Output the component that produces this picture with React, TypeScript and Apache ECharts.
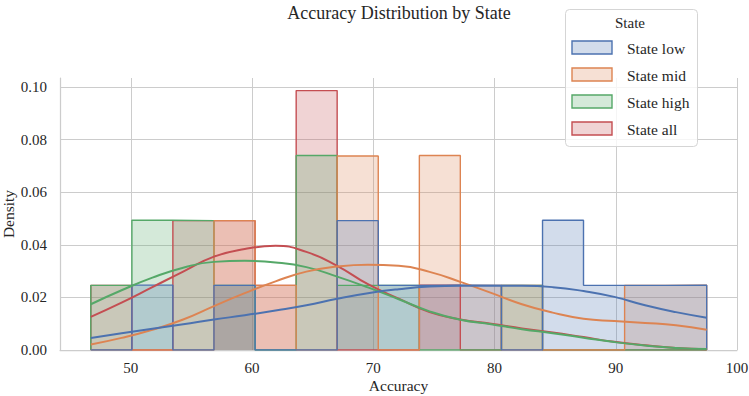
import React, { useEffect, useRef } from "react";
import * as echarts from "echarts";

// Histogram bin edges (Accuracy) shared by every state
const binEdges = [46.7, 50.09, 53.47, 56.86, 60.25, 63.64, 67.02, 70.41, 73.8, 77.18, 80.57, 83.96, 87.34, 90.73, 94.12, 97.5];
const sampleSize = 12;

const stateNames = ["State low", "State mid", "State high", "State all"];
const stateColors = ["#4c72b0", "#dd8452", "#55a868", "#c44e52"];

// Observations per bin for each state
const countsLow = [0, 1, 0, 1, 0, 0, 2, 1, 1, 1, 0, 2, 1, 1, 1];
const countsMid = [0, 0, 0, 2, 1, 0, 3, 0, 3, 1, 0, 0, 0, 1, 1];
const countsHigh = [1, 2, 2, 1, 0, 3, 1, 1, 0, 0, 1, 0, 0, 0, 0];
const countsAll = [1, 0, 2, 2, 1, 4, 0, 0, 1, 0, 1, 0, 0, 0, 0];

// Kernel density estimates sampled along the accuracy range
const kdeX = [46.7, 49.24, 51.78, 54.32, 56.86, 59.4, 61.94, 64.48, 67.02, 69.56, 72.1, 74.64, 77.18, 79.72, 82.26, 84.8, 87.34, 89.88, 92.42, 94.96, 97.5];
const kdeLow = [0.0046, 0.0064, 0.0081, 0.0098, 0.0116, 0.0132, 0.015, 0.017, 0.0195, 0.0216, 0.0231, 0.0241, 0.0244, 0.0244, 0.0244, 0.0239, 0.0224, 0.0202, 0.017, 0.0144, 0.0123];
const kdeMid = [0.0021, 0.0046, 0.0077, 0.0116, 0.0167, 0.0216, 0.0261, 0.0298, 0.0317, 0.0324, 0.032, 0.0297, 0.0259, 0.0217, 0.0174, 0.0142, 0.0119, 0.011, 0.0103, 0.0094, 0.0077];
const kdeHigh = [0.0174, 0.0227, 0.0275, 0.0313, 0.0335, 0.0339, 0.0333, 0.0315, 0.0279, 0.0238, 0.0193, 0.0147, 0.0115, 0.0098, 0.0079, 0.0064, 0.0047, 0.003, 0.0017, 0.0008, 0.0004];
const kdeAll = [0.0126, 0.018, 0.0239, 0.0298, 0.0355, 0.0384, 0.0396, 0.0373, 0.032, 0.025, 0.0195, 0.0144, 0.0116, 0.01, 0.0082, 0.0067, 0.0049, 0.0031, 0.0018, 0.0008, 0.0003];

const xTicks = [50, 60, 70, 80, 90, 100];
const yTicks = [0, 0.02, 0.04, 0.06, 0.08, 0.1];

const allCounts = [countsLow, countsMid, countsHigh, countsAll];
const allKde = [kdeLow, kdeMid, kdeHigh, kdeAll];

const FONT = "Liberation Serif";
const TEXT = "#262626";
const GRID = "#cccccc";

function hexToRgba(hex: string, a: number) {
  const n = parseInt(hex.slice(1), 16);
  return `rgba(${(n >> 16) & 255},${(n >> 8) & 255},${n & 255},${a})`;
}

// Step outline of a density histogram, closed down to zero at both ends
function stepPoints(counts: number[]) {
  const pts: number[][] = [[binEdges[0], 0]];
  counts.forEach((c, i) => {
    const w = binEdges[i + 1] - binEdges[i];
    pts.push([binEdges[i], c / (sampleSize * w)]);
  });
  const last = counts.length - 1;
  const lastW = binEdges[last + 1] - binEdges[last];
  pts.push([binEdges[last + 1], counts[last] / (sampleSize * lastW)]);
  pts.push([binEdges[last + 1], 0]);
  return pts;
}

function isTick(v: number, ticks: number[]) {
  return ticks.some((t) => Math.abs(t - v) < 1e-6);
}

export default function App() {
  const ref = useRef<HTMLDivElement>(null);

  useEffect(() => {
    if (!ref.current) return;
    const chart = echarts.init(ref.current, undefined, { renderer: "svg" });

    // later states are drawn first so "State low" ends up on top
    const order = [3, 2, 1, 0];
    const histSeries = order.map((i) => ({
      name: stateNames[i],
      type: "line",
      step: "end",
      data: stepPoints(allCounts[i]),
      symbol: "none",
      silent: true,
      z: 2,
      lineStyle: { color: stateColors[i], width: 1.4 },
      itemStyle: { color: stateColors[i] },
      areaStyle: { color: hexToRgba(stateColors[i], 0.25), opacity: 1 },
    }));
    const kdeSeries = order.map((i) => ({
      name: stateNames[i] + " density",
      type: "line",
      data: kdeX.map((x, k) => [x, allKde[i][k]]),
      smooth: 0.5,
      symbol: "none",
      silent: true,
      z: 3,
      lineStyle: { color: stateColors[i], width: 2 },
    }));

    const legendTop = 9;
    const legendLeft = 565;
    const rowCenters = [47.5, 74.5, 101.5, 128.5];
    const legendGraphics: any[] = [
      {
        type: "rect",
        left: legendLeft,
        top: legendTop,
        shape: { width: 132, height: 137, r: 4 },
        style: { fill: "rgba(255,255,255,0.8)", stroke: "#d5d5d5", lineWidth: 1 },
        z: 50,
      },
      {
        type: "text",
        x: 630,
        y: 22.5,
        style: { text: "State", font: `15px ${FONT}`, fill: TEXT, textAlign: "center", textVerticalAlign: "middle" },
        z: 51,
      },
    ];
    stateNames.forEach((name, i) => {
      legendGraphics.push({
        type: "rect",
        x: 572,
        y: rowCenters[i] - 6.5,
        shape: { width: 40, height: 13 },
        style: { fill: hexToRgba(stateColors[i], 0.25), stroke: stateColors[i], lineWidth: 1.4 },
        z: 51,
      });
      legendGraphics.push({
        type: "text",
        x: 627,
        y: rowCenters[i] + 1,
        style: { text: name, font: `15.5px ${FONT}`, fill: TEXT, textAlign: "left", textVerticalAlign: "middle" },
        z: 51,
      });
    });

    chart.setOption({
      animation: false,
      backgroundColor: "#ffffff",
      grid: { left: 60, right: 12, top: 78, bottom: 46, outerBoundsMode: "none", containLabel: false },
      xAxis: {
        type: "value",
        min: 44.16,
        max: 100,
        name: "Accuracy",
        nameLocation: "middle",
        nameGap: 27,
        nameMoveOverlap: false,
        nameTextStyle: { fontFamily: FONT, fontSize: 15.5, color: TEXT },
        axisLine: { show: true, lineStyle: { color: GRID, width: 1.25 } },
        axisTick: { show: false },
        splitLine: { show: true, showMinLine: false, lineStyle: { color: GRID, width: 1 } },
        axisLabel: {
          fontFamily: FONT,
          fontSize: 15,
          color: TEXT,
          margin: 10,
          formatter: (v: number) => (isTick(v, xTicks) ? String(Math.round(v)) : ""),
        },
      },
      yAxis: {
        type: "value",
        min: 0,
        max: 0.1034,
        name: "Density",
        nameLocation: "middle",
        nameRotate: 90,
        nameGap: 44,
        nameMoveOverlap: false,
        nameTextStyle: { fontFamily: FONT, fontSize: 15.5, color: TEXT },
        axisLine: { show: true, lineStyle: { color: GRID, width: 1.25 } },
        axisTick: { show: false },
        splitLine: { show: true, showMaxLine: false, lineStyle: { color: GRID, width: 1 } },
        axisLabel: {
          fontFamily: FONT,
          fontSize: 15,
          color: TEXT,
          margin: 13,
          formatter: (v: number) => (isTick(v, yTicks) ? v.toFixed(2) : ""),
        },
      },
      graphic: [
        {
          type: "text",
          x: 399,
          y: 12.5,
          style: {
            text: "Accuracy Distribution by State",
            font: `18px ${FONT}`,
            fill: TEXT,
            textAlign: "center",
            textVerticalAlign: "middle",
          },
        },
        ...legendGraphics,
      ],
      series: [...histSeries, ...kdeSeries],
    } as any);

    return () => chart.dispose();
  }, []);

  return (
    <div
      ref={ref}
      style={{ position: "fixed", left: 0, top: 0, width: 749, height: 396, background: "#fff" }}
    />
  );
}
